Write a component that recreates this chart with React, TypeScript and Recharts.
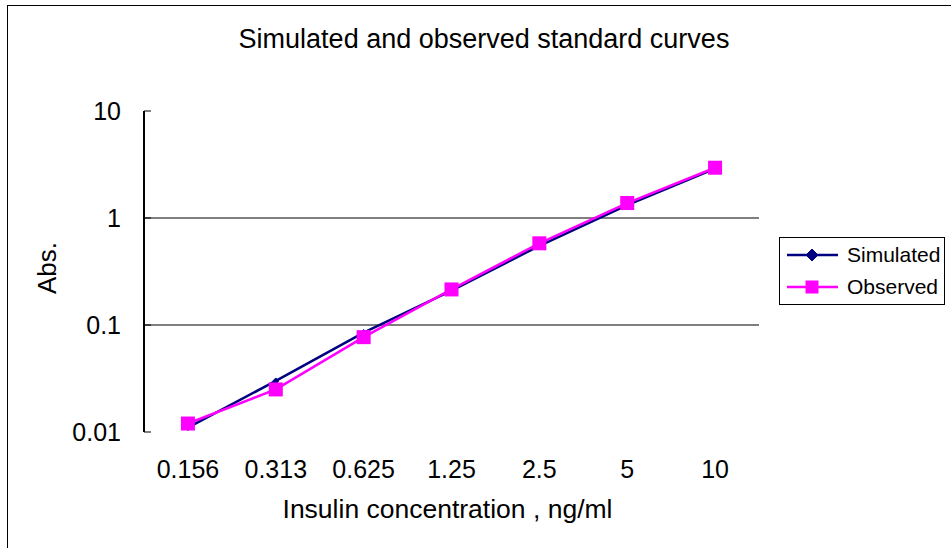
import {
  CartesianGrid,
  Legend,
  Line,
  LineChart,
  XAxis,
  YAxis,
} from 'recharts';

const concentrations = ['0.156', '0.313', '0.625', '1.25', '2.5', '5', '10'];
const simulated = [0.011, 0.03, 0.085, 0.21, 0.55, 1.32, 2.9];
const observed = [0.012, 0.025, 0.077, 0.215, 0.58, 1.38, 2.95];
const absTicks = [0.01, 0.1, 1, 10];
const seriesOrder = ['simulated', 'observed'];

const SIM_COLOR = '#000080';
const OBS_COLOR = '#FF00FF';
const FONT = '"Liberation Sans", Arial, sans-serif';

const data = concentrations.map((c, i) => ({
  idx: i,
  conc: c,
  simulated: simulated[i],
  observed: observed[i],
}));

// tick marks sit on the boundaries between categories, labels in the middle
const boundaryTicks = concentrations.map((_, i) => i - 0.5).concat(concentrations.length - 0.5);
const labelTicks = concentrations.map((_, i) => i);
const xDomain = [-0.5, concentrations.length - 0.5];

const tickText = { fill: '#000', fontSize: 25, fontFamily: FONT };

function Diamond({ cx, cy, r = 6.5 }: { cx?: number; cy?: number; r?: number }) {
  if (cx == null || cy == null) return null;
  return (
    <polygon
      points={`${cx},${cy - r} ${cx + r},${cy} ${cx},${cy + r} ${cx - r},${cy}`}
      fill={SIM_COLOR}
      stroke={SIM_COLOR}
    />
  );
}

function Square({ cx, cy, s = 14 }: { cx?: number; cy?: number; s?: number }) {
  if (cx == null || cy == null) return null;
  return <rect x={cx - s / 2} y={cy - s / 2} width={s} height={s} fill={OBS_COLOR} />;
}

function LegendBox({ payload }: any) {
  const items = [...(payload || [])].sort(
    (a: any, b: any) => seriesOrder.indexOf(a.dataKey) - seriesOrder.indexOf(b.dataKey),
  );
  return (
    <div
      style={{
        border: '1px solid #000',
        background: '#fff',
        width: 164,
        padding: '1px 0',
        fontFamily: FONT,
        fontSize: 21,
      }}
    >
      {items.map((entry: any) => (
        <div key={entry.value} style={{ display: 'flex', alignItems: 'center', height: 32 }}>
          <svg width={67} height={20} style={{ flex: 'none' }}>
            <line x1={7} x2={58} y1={10} y2={10} stroke={entry.color} strokeWidth={2.5} />
            {entry.dataKey === 'simulated' ? (
              <Diamond cx={32} cy={10} r={6} />
            ) : (
              <Square cx={32} cy={10} s={13} />
            )}
          </svg>
          <span style={{ color: '#000' }}>{entry.value}</span>
        </div>
      ))}
    </div>
  );
}

export default function App() {
  return (
    <div style={{ position: 'absolute', left: 0, top: 0, width: 951, height: 548, background: '#fff', overflow: 'hidden' }}>
      <div
        style={{
          position: 'absolute',
          left: 7,
          top: 5,
          width: 960,
          height: 560,
          borderLeft: '1px solid #000',
          borderTop: '1px solid #000',
        }}
      />
      <div
        style={{
          position: 'absolute',
          left: 0,
          width: 968,
          top: 24,
          textAlign: 'center',
          fontFamily: FONT,
          fontSize: 27,
          color: '#000',
          whiteSpace: 'nowrap',
        }}
      >
        Simulated and observed standard curves
      </div>
      <div
        style={{
          position: 'absolute',
          left: 140,
          width: 615,
          top: 494,
          textAlign: 'center',
          fontFamily: FONT,
          fontSize: 26.5,
          color: '#000',
          whiteSpace: 'nowrap',
        }}
      >
        Insulin concentration , ng/ml
      </div>
      <div
        style={{
          position: 'absolute',
          left: 47,
          top: 268,
          transform: 'translate(-50%, -50%) rotate(-90deg)',
          fontFamily: FONT,
          fontSize: 26,
          color: '#000',
          whiteSpace: 'nowrap',
        }}
      >
        Abs.
      </div>
      <div style={{ position: 'absolute', left: 0, top: 0 }}>
        <LineChart
          width={951}
          height={548}
          data={data}
          margin={{ top: 111, right: 192, bottom: 56, left: 0 }}
        >
          <CartesianGrid
            vertical={false}
            horizontalValues={[0.1, 1]}
            stroke="#000"
            strokeWidth={1.2}
          />
          <XAxis
            xAxisId="pos"
            dataKey="idx"
            type="number"
            domain={xDomain}
            allowDataOverflow
            ticks={boundaryTicks}
            tick={false}
            tickSize={-7}
            tickLine={{ stroke: '#000' }}
            axisLine={{ stroke: '#000', strokeWidth: 2 }}
            height={0}
          />
          <XAxis
            xAxisId="lab"
            dataKey="idx"
            type="number"
            domain={xDomain}
            allowDataOverflow
            ticks={labelTicks}
            tickFormatter={(v: number) => concentrations[v]}
            axisLine={false}
            tickLine={false}
            tickSize={0}
            tickMargin={28}
            tick={tickText}
            height={60}
            interval={0}
          />
          <XAxis
            xAxisId="top"
            orientation="top"
            dataKey="idx"
            type="number"
            domain={xDomain}
            allowDataOverflow
            tick={false}
            tickLine={false}
            axisLine={{ stroke: '#808080', strokeWidth: 2 }}
            height={0}
          />
          <YAxis
            scale="log"
            domain={[0.01, 10]}
            ticks={absTicks}
            tickFormatter={(v: number) => String(v)}
            allowDataOverflow
            width={144}
            tickSize={-7}
            tickMargin={30}
            tick={tickText}
            tickLine={{ stroke: '#000' }}
            axisLine={{ stroke: '#000', strokeWidth: 2 }}
            interval={0}
          />
          <YAxis
            yAxisId="right"
            orientation="right"
            tick={false}
            tickLine={false}
            axisLine={{ stroke: '#808080', strokeWidth: 2 }}
            width={0}
          />
          <Legend
            layout="vertical"
            align="center"
            verticalAlign="middle"
            content={<LegendBox />}
            wrapperStyle={{ position: 'absolute', left: 779, top: 237, width: 166 }}
          />
          <Line
            xAxisId="pos"
            dataKey="simulated"
            name="Simulated"
            stroke={SIM_COLOR}
            strokeWidth={2.5}
            dot={<Diamond />}
            activeDot={false}
            isAnimationActive={false}
          />
          <Line
            xAxisId="pos"
            dataKey="observed"
            name="Observed"
            stroke={OBS_COLOR}
            strokeWidth={2.5}
            dot={<Square />}
            activeDot={false}
            isAnimationActive={false}
          />
        </LineChart>
      </div>
    </div>
  );
}
